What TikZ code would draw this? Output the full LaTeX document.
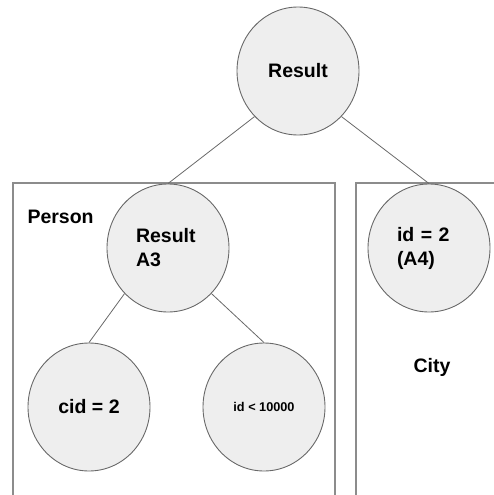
\documentclass[tikz,border=0pt]{standalone}
\usepackage{fontspec}
\setmainfont{Liberation Sans}
\usetikzlibrary{shapes.geometric}
\definecolor{nodefill}{RGB}{238,238,238}
\definecolor{nodeline}{RGB}{105,105,105}
\definecolor{boxline}{RGB}{140,140,140}
\begin{document}
\begin{tikzpicture}[x=1pt, y=-1pt,
  op/.style={ellipse, draw=nodeline, fill=nodefill, line width=0.9pt,
    minimum width=122pt, minimum height=128pt, inner sep=0pt,
    font=\fontsize{19.5}{24}\selectfont\bfseries},
  oplines/.style={op, text width=64pt, align=left},
  tbl/.style={draw=boxline, line width=1.2pt},
  tblname/.style={font=\fontsize{19.5}{24}\selectfont\bfseries},
  link/.style={draw=nodeline, line width=0.8pt}]
\useasboundingbox (0,0) rectangle (493,495);
% relation boxes
\draw[tbl] (13,496) -- (13,183) -- (335,183) -- (335,496);
\draw[tbl] (356,496) -- (356,183) -- (494,183);
\node[tblname, anchor=west] (person) at (24,217) {Person};
\node[tblname] (city) at (432,367) {City};
% plan tree
\node[op] (res) at (298,71) {Result};
\node[oplines] (a3) at (168,248) {Result\\A3};
\node[oplines] (a4) at (429,248) {id = 2\\(A4)};
\node[op] (cid) at (89,407) {cid = 2};
\node[op, font=\fontsize{12.7}{15}\selectfont\bfseries] (lt) at (264,407) {id < 10000};
\draw[link] (res.south west) -- (a3.north);
\draw[link] (res.south east) -- (a4.north);
\draw[link] (a3.south west) -- (cid.north);
\draw[link] (a3.south east) -- (lt.north);
\end{tikzpicture}
\end{document}
